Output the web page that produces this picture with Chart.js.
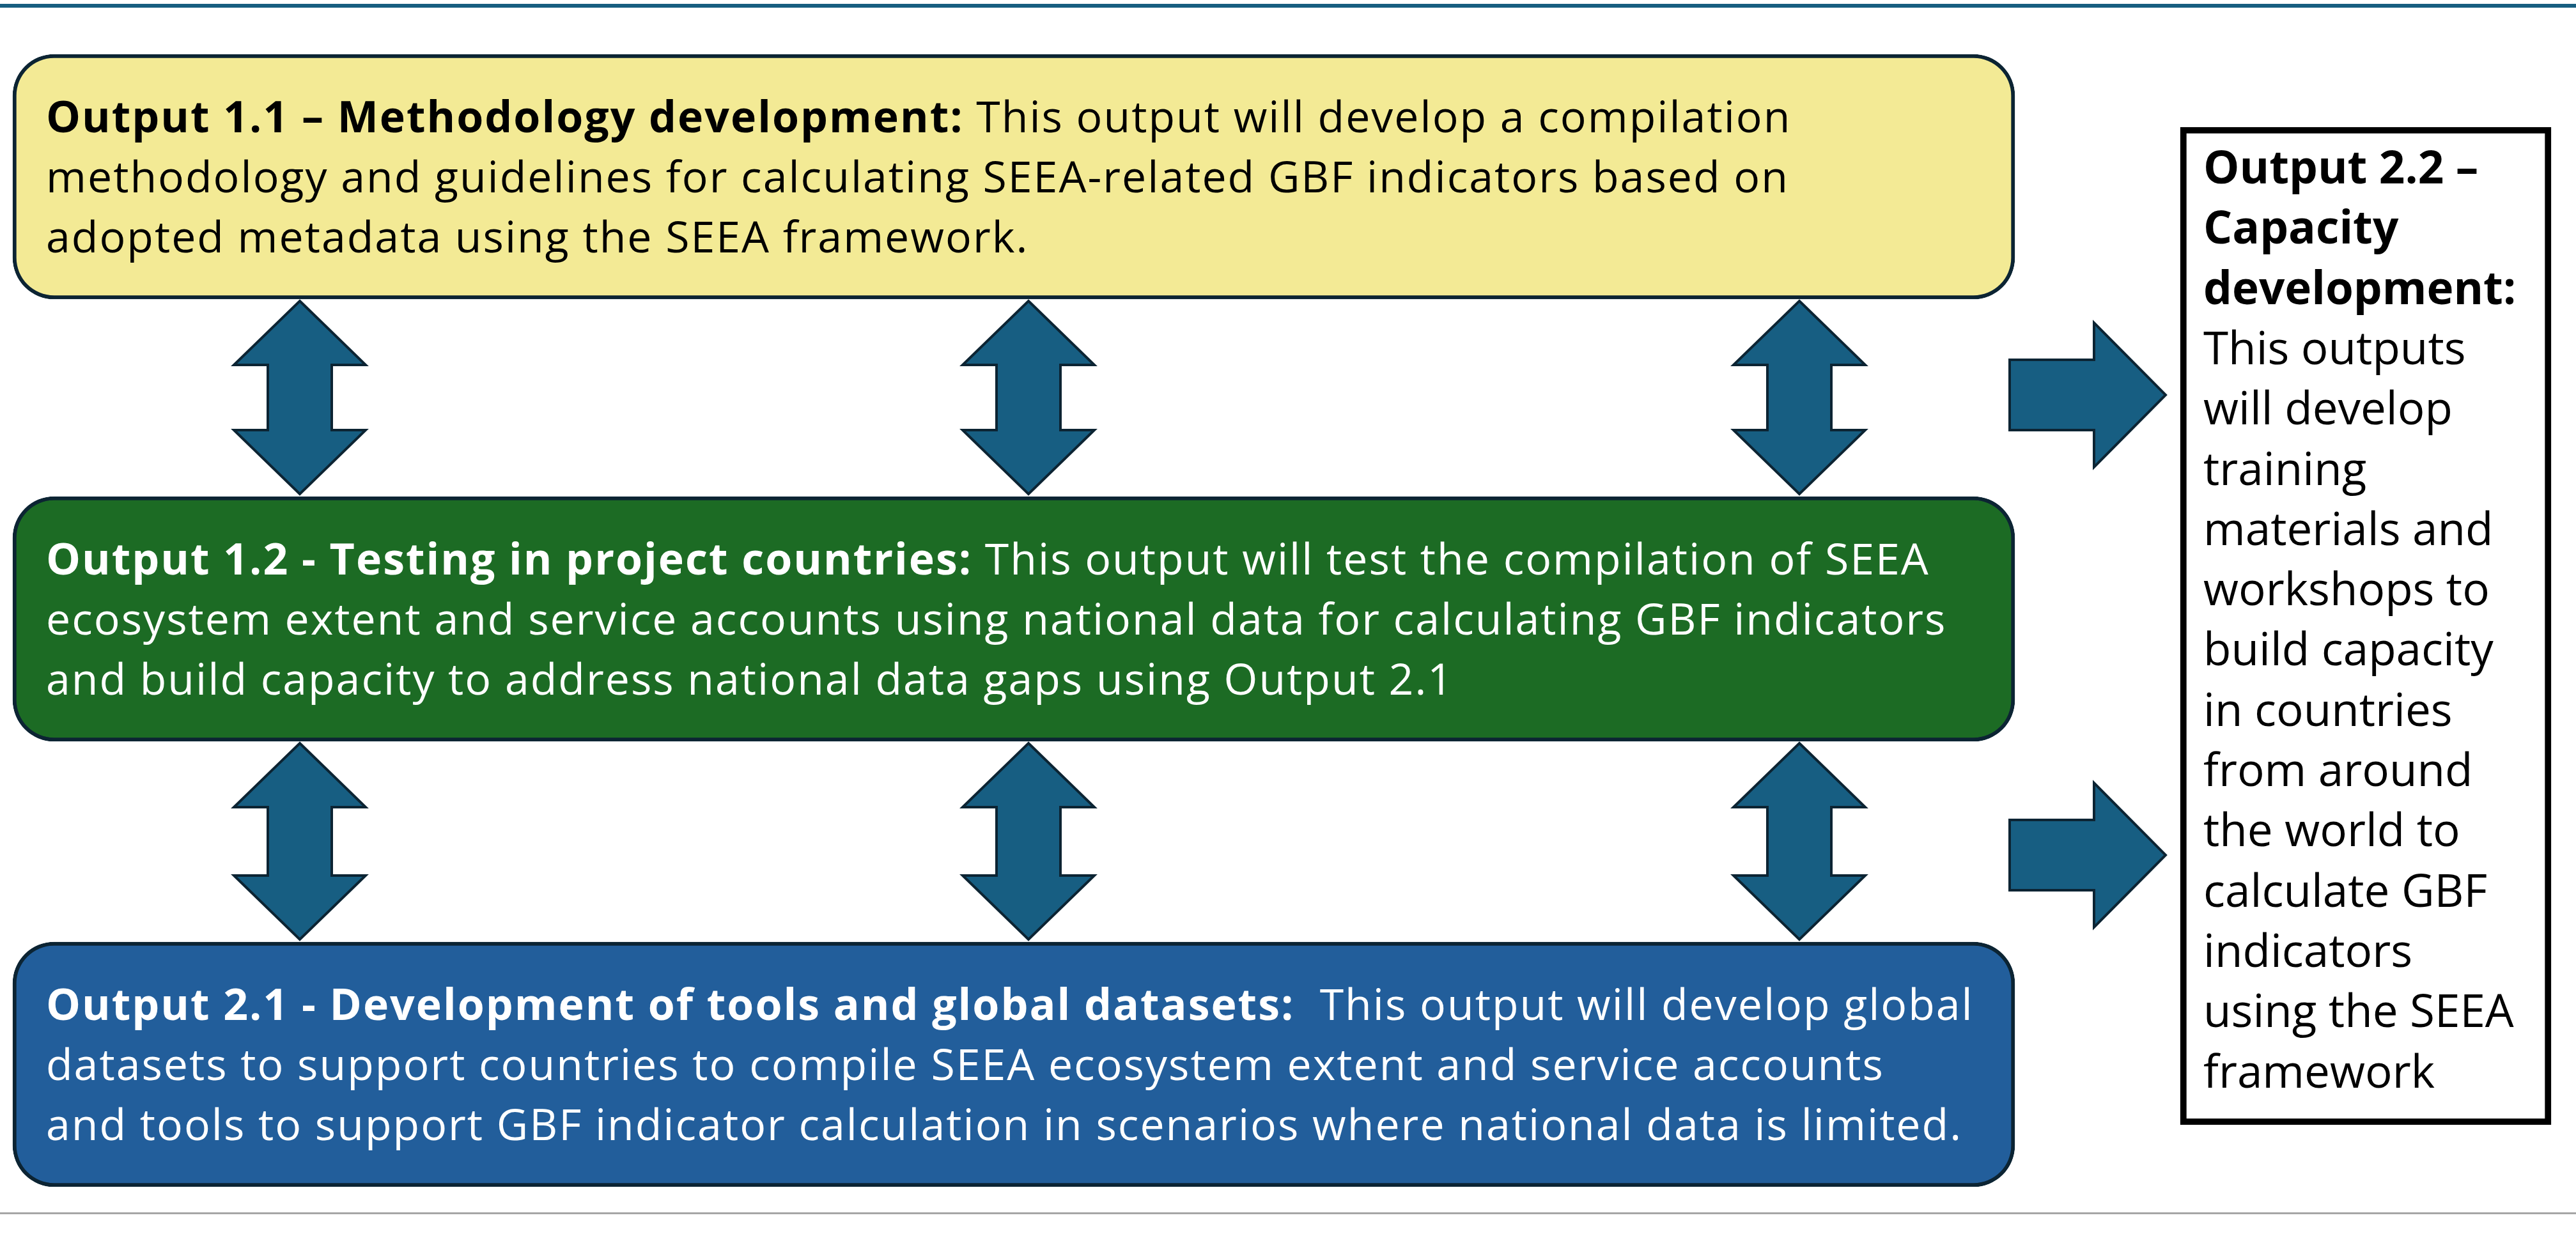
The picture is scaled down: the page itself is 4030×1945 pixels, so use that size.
<!DOCTYPE html>
<html>
<head>
<meta charset="utf-8">
<script src="https://cdn.jsdelivr.net/npm/chart.js@4.4.1/dist/chart.umd.min.js"></script>
<style>
html, body { margin: 0; padding: 0; background: #ffffff; overflow: hidden; }
canvas { display: block; }
</style>
</head>
<body>
<canvas id="diagram" width="4030" height="1945"></canvas>
<script>
// text content of the diagram
const boxTitles = [
	'Output 1.1 – Methodology development:',
	'Output 1.2 - Testing in project countries:',
	'Output 2.1 - Development of tools and global datasets:'
];
const boxLines = [
	['This output will develop a compilation',
	 'methodology and guidelines for calculating SEEA-related GBF indicators based on',
	 'adopted metadata using the SEEA framework.'],
	['This output will test the compilation of SEEA',
	 'ecosystem extent and service accounts using national data for calculating GBF indicators',
	 'and build capacity to address national data gaps using Output 2.1'],
	[' This output will develop global',
	 'datasets to support countries to compile SEEA ecosystem extent and service accounts',
	 'and tools to support GBF indicator calculation in scenarios where national data is limited.']
];
const sideTitle = ['Output 2.2 –', 'Capacity', 'development:'];
const sideLines = ['This outputs', 'will develop', 'training', 'materials and', 'workshops to',
	'build capacity', 'in countries', 'from around', 'the world to', 'calculate GBF',
	'indicators', 'using the SEEA', 'framework'];

// layout (canvas units)
const W = 4030, H = 1945;
const rowTop = [85, 777, 1474];
const rowH = 383;
const boxLeft = 20, boxRight = 3152;
const boxFill = ['#f3ea95', '#1c6b24', '#225e9b'];
const boxInk = ['#000000', '#ffffff', '#ffffff'];
const arrowCols = [469, 1609, 2815];
const side = { left: 3411, right: 3991, top: 199, bottom: 1760 };
const sideArrowY = [618, 1338];

const FONT = '"Open Sans", sans-serif';
const mainSize = 68, mainSpacing = '2px';
const sideSize = 71, sideSpacing = '0px';

const arrowFill = '#175e82', arrowEdge = '#0c2433';

const diagramPlugin = {
	id: 'diagram',
	beforeDatasetsDraw(chart) {
		const { ctx, scales: { x, y } } = chart;
		ctx.save();
		ctx.fillStyle = '#175e80';
		ctx.fillRect(x.getPixelForValue(0), y.getPixelForValue(6), x.getPixelForValue(W), 6);
		ctx.fillStyle = '#a6a6a6';
		ctx.fillRect(x.getPixelForValue(0), y.getPixelForValue(1897), x.getPixelForValue(W), 3);
		ctx.restore();
	},
	afterDatasetsDraw(chart) {
		const { ctx, scales: { x, y } } = chart;
		const px = v => x.getPixelForValue(v);
		const py = v => y.getPixelForValue(v);
		ctx.save();
		ctx.lineJoin = 'miter';
		ctx.lineWidth = 4;
		ctx.fillStyle = arrowFill;
		ctx.strokeStyle = arrowEdge;

		// up-down arrows between the rows
		for (let r = 0; r < rowTop.length - 1; r++) {
			const t = rowTop[r] + rowH + 3, b = rowTop[r + 1] - 4;
			arrowCols.forEach(c => {
				const hw = 103, sw = 50, hh = 100;
				ctx.beginPath();
				ctx.moveTo(px(c), py(t));
				ctx.lineTo(px(c + hw), py(t + hh));
				ctx.lineTo(px(c + sw), py(t + hh));
				ctx.lineTo(px(c + sw), py(b - hh));
				ctx.lineTo(px(c + hw), py(b - hh));
				ctx.lineTo(px(c), py(b));
				ctx.lineTo(px(c - hw), py(b - hh));
				ctx.lineTo(px(c - sw), py(b - hh));
				ctx.lineTo(px(c - sw), py(t + hh));
				ctx.lineTo(px(c - hw), py(t + hh));
				ctx.closePath();
				ctx.fill();
				ctx.stroke();
			});
		}

		// right arrows into the capacity box
		sideArrowY.forEach(cy => {
			const x0 = 3144, x1 = 3276, x2 = 3388, sh = 55, hh = 113;
			ctx.beginPath();
			ctx.moveTo(px(x0), py(cy - sh));
			ctx.lineTo(px(x1), py(cy - sh));
			ctx.lineTo(px(x1), py(cy - hh));
			ctx.lineTo(px(x2), py(cy));
			ctx.lineTo(px(x1), py(cy + hh));
			ctx.lineTo(px(x1), py(cy + sh));
			ctx.lineTo(px(x0), py(cy + sh));
			ctx.closePath();
			ctx.fill();
			ctx.stroke();
		});

		// box texts
		ctx.textBaseline = 'alphabetic';
		ctx.textAlign = 'left';
		ctx.letterSpacing = mainSpacing;
		boxTitles.forEach((title, i) => {
			const base = rowTop[i] + 122;
			ctx.fillStyle = boxInk[i];
			ctx.font = `bold ${mainSize}px ${FONT}`;
			ctx.fillText(title, px(72), py(base));
			const tw = ctx.measureText(title + ' ').width;
			ctx.font = `${mainSize}px ${FONT}`;
			boxLines[i].forEach((line, j) => {
				const lx = j === 0 ? px(72) + tw : px(72);
				ctx.fillText(line, lx, py(base + j * 94));
			});
		});

		ctx.letterSpacing = sideSpacing;
		ctx.fillStyle = '#000000';
		const step = 94.3;
		ctx.font = `bold ${sideSize}px ${FONT}`;
		sideTitle.forEach((line, j) => ctx.fillText(line, px(3447), py(287 + j * step)));
		ctx.font = `${sideSize}px ${FONT}`;
		sideLines.forEach((line, j) => ctx.fillText(line, px(3447), py(287 + (j + sideTitle.length) * step)));
		ctx.restore();
	}
};

new Chart(document.getElementById('diagram').getContext('2d'), {
	type: 'bar',
	data: {
		datasets: [{
			label: 'Outputs',
			data: rowTop.map((t, i) => ({ y: t + rowH / 2, x: [boxLeft, boxRight] })),
			backgroundColor: boxFill,
			borderColor: '#0c2433',
			borderWidth: 6,
			borderRadius: 65,
			borderSkipped: false,
			barThickness: rowH,
			grouped: false
		}, {
			label: 'Output 2.2',
			data: [{ y: (side.top + side.bottom) / 2, x: [side.left, side.right] }],
			backgroundColor: '#ffffff',
			borderColor: '#000000',
			borderWidth: 10,
			borderSkipped: false,
			barThickness: side.bottom - side.top,
			grouped: false
		}]
	},
	options: {
		indexAxis: 'y',
		responsive: false,
		animation: false,
		devicePixelRatio: 1,
		layout: { padding: 0 },
		plugins: {
			legend: { display: false },
			tooltip: { enabled: false }
		},
		scales: {
			x: { type: 'linear', min: 0, max: W, offset: false, display: false },
			y: { type: 'linear', min: 0, max: H, reverse: true, offset: false, display: false }
		}
	},
	plugins: [diagramPlugin]
});
</script>
</body>
</html>
